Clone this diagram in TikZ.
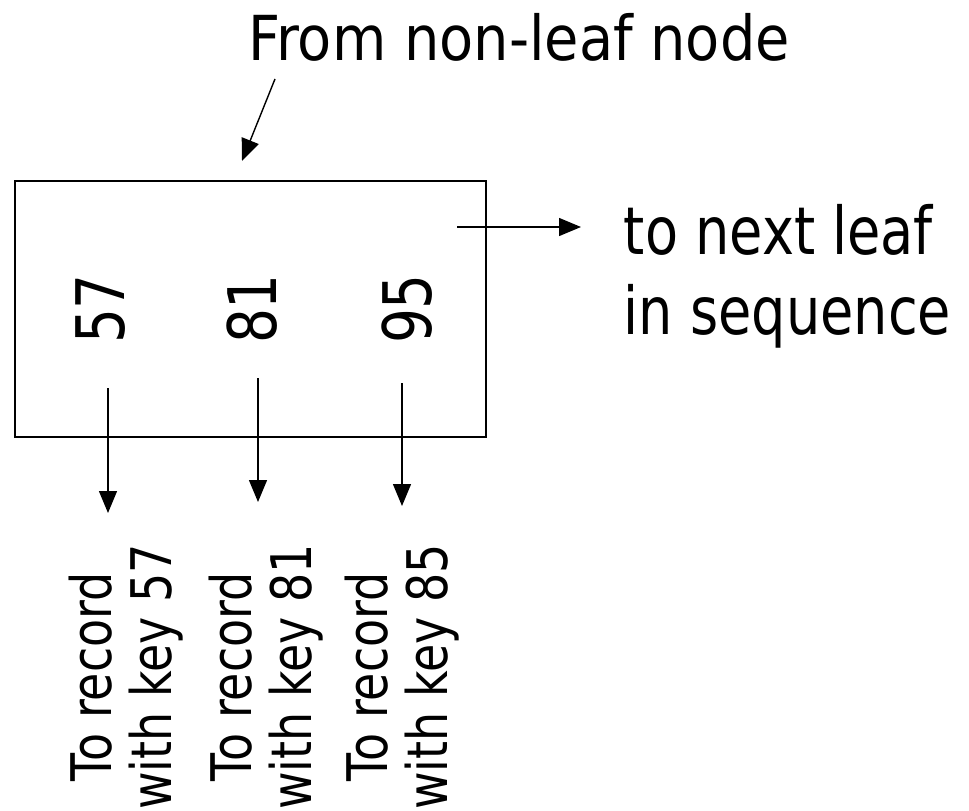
\documentclass[tikz,border=0pt]{standalone}
\usepackage{fontspec}
\setmainfont{DejaVu Sans}[FakeStretch=0.82]
\newfontfamily\titlefont{DejaVu Sans}[FakeStretch=0.9]
\usetikzlibrary{arrows.meta}
\begin{document}
\begin{tikzpicture}[x=1pt,y=-1pt,line width=1.6pt,
	keytext/.style={rotate=90,inner sep=0pt,font=\fontsize{67}{80}\selectfont},
	rectext/.style={rotate=90,anchor=north,inner sep=0pt,align=center,font=\fontsize{56}{60}\selectfont},
	ptr/.style={-{Triangle[length=22pt,width=18pt]},line width=1.4pt}]
	\useasboundingbox (0,0) rectangle (969,811);
	% leaf node
	\node[draw,minimum width=471pt,minimum height=256pt,inner sep=0pt] (leaf) at (250.5,309) {};
	\node[keytext] (k57) at (100.5,309) {57};
	\node[keytext] (k81) at (252,309) {81};
	\node[keytext] (k95) at (407,309) {95};
	% upper labels
	\node[anchor=base,inner sep=0pt,font=\titlefont\fontsize{62}{70}\selectfont] (from) at (519,60) {From non-leaf node};
	\node[anchor=west,inner sep=0pt,align=left,font=\fontsize{66}{80}\selectfont] (next) at (623,276) {to next leaf\\in sequence};
	\coordinate (f0) at (275,79); \coordinate (f1) at (242,161);
	\coordinate (n0) at (457,227); \coordinate (n1) at (581,227);
	\draw[ptr] (f0)--(f1);
	\draw[ptr] (n0)--(n1);
	% pointers to records
	\coordinate (p57) at (108,388); \coordinate (p81) at (258,378); \coordinate (p95) at (402,383);
	\node[rectext] (r57) at (68,677) {To record\\with key 57};
	\node[rectext] (r81) at (208,677) {To record\\with key 81};
	\node[rectext] (r85) at (344,677) {To record\\with key 85};
	\draw[ptr] (p57)--(108,513);
	\draw[ptr] (p81)--(258,502);
	\draw[ptr] (p95)--(402,506);
\end{tikzpicture}
\end{document}
